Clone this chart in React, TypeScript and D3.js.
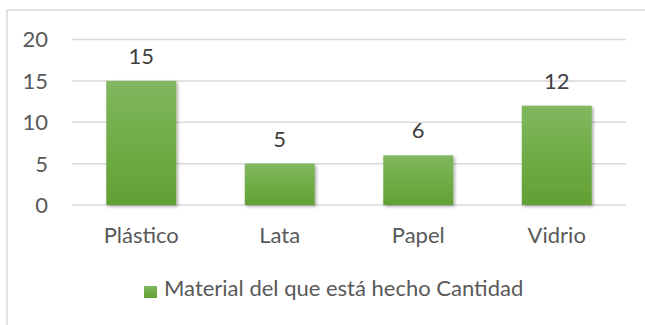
import React from "react";
import * as d3 from "d3";

const categories = ["Plástico", "Lata", "Papel", "Vidrio"];
const values = [15, 5, 6, 12];
const yTicks = [0, 5, 10, 15, 20];
const seriesName = "Material del que está hecho Cantidad";

const W = 645;
const H = 325;
const plotLeft = 72;
const plotRight = 626;
const plotTop = 39.5;
const plotBottom = 205;
const FONT = "Lato, 'Open Sans', sans-serif";
const TEXT = "#595959";
const FS = 22;

export default function App() {
  const x = d3.scaleBand<string>().domain(categories).range([plotLeft, plotRight]).padding(0);
  const y = d3.scaleLinear().domain([0, 20]).range([plotBottom, plotTop]);
  const bw = x.bandwidth() * 0.505;

  return (
    <svg
      width={W}
      height={H}
      style={{ position: "absolute", left: 0, top: 0, background: "#fff" }}
      fontFamily={FONT}
    >
      <defs>
        <linearGradient id="barGrad" x1="0" y1="0" x2="0" y2="1">
          <stop offset="0%" stopColor="#80b760" />
          <stop offset="50%" stopColor="#70ad47" />
          <stop offset="100%" stopColor="#62a034" />
        </linearGradient>
        <filter id="shadow" x="-20%" y="-20%" width="140%" height="140%">
          <feDropShadow dx="1.5" dy="1.5" stdDeviation="1.5" floodColor="#000" floodOpacity="0.35" />
        </filter>
      </defs>
      <rect x={0} y={0} width={W} height={H} fill="#fff" />
      <rect x={7} y={10} width={700} height={400} fill="none" stroke="#d9d9d9" strokeWidth={1.5} />
      {yTicks.map((t) => (
        <g key={t}>
          <line x1={plotLeft} x2={plotRight} y1={y(t)} y2={y(t)} stroke="#d9d9d9" strokeWidth={1.5} />
          <text x={48} y={y(t)} dy="0.36em" textAnchor="end" fontSize={FS} fill={TEXT}>
            {t}
          </text>
        </g>
      ))}
      {categories.map((c, i) => {
        const cx = (x(c) as number) + x.bandwidth() / 2;
        return (
          <g key={c}>
            <rect
              x={cx - bw / 2}
              y={y(values[i])}
              width={bw}
              height={plotBottom - y(values[i])}
              fill="url(#barGrad)"
              filter="url(#shadow)"
            />
            <text x={cx} y={y(values[i]) - 17} textAnchor="middle" fontSize={FS} fill="#404040">
              {values[i]}
            </text>
            <text x={cx} y={243} textAnchor="middle" fontSize={FS} fill={TEXT}>
              {c}
            </text>
          </g>
        );
      })}
      <rect x={144} y={286} width={13} height={12} fill="url(#barGrad)" />
      <text x={164} y={296} fontSize={FS} fill={TEXT}>
        {seriesName}
      </text>
    </svg>
  );
}
